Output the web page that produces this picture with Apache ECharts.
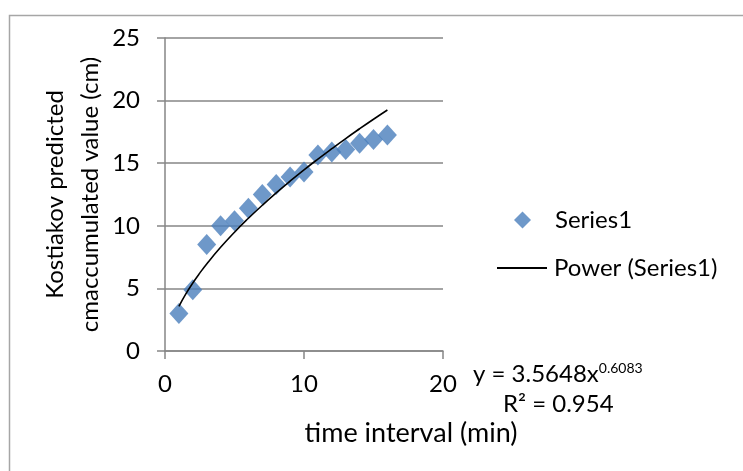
<!DOCTYPE html>
<html>
<head>
<meta charset="utf-8">
<script src="https://cdn.jsdelivr.net/npm/echarts@6/dist/echarts.min.js"></script>
<style>
html,body{margin:0;padding:0;background:#fff;}
#chart{width:743px;height:471px;}
</style>
</head>
<body>
<div id="chart"></div>
<script>
// Observed data (time interval, min) vs Kostiakov predicted accumulated value (cm)
var timeValues = [1, 2, 3, 4, 5, 6, 7, 8, 9, 10, 11, 12, 13, 14, 15, 16];
var series1Values = [3.0, 4.9, 8.5, 10.0, 10.4, 11.4, 12.5, 13.3, 13.9, 14.3, 15.65, 15.9, 16.1, 16.6, 16.9, 17.25];
// Power trendline (Excel)
var trendX = [1, 1.5, 2, 2.5, 3, 4, 5, 6, 7, 8, 9, 10, 11, 12, 13, 14, 15, 16];
var trendY = [3.56, 4.56, 5.43, 6.22, 6.95, 8.28, 9.49, 10.60, 11.64, 12.63, 13.57, 14.47, 15.33, 16.16, 16.97, 17.75, 18.51, 19.25];
var xTicks = [0, 10, 20];
var yTicks = [0, 5, 10, 15, 20, 25];
var equationText = 'y = 3.5648x';
var equationExp = '0.6083';
var r2Text = 'R² = 0.954';

var FONT = 'Lato, sans-serif';
var FS = 24;
var scatterData = timeValues.map(function (t, i) { return [t, series1Values[i]]; });
var trendData = trendX.map(function (t, i) { return [t, trendY[i]]; });

var chart = echarts.init(document.getElementById('chart'));
chart.setOption({
  animation: false,
  backgroundColor: '#fff',
  textStyle: { fontFamily: FONT },
  grid: { left: 165, right: 300, top: 38, bottom: 120 },
  xAxis: {
    type: 'value', min: xTicks[0], max: xTicks[xTicks.length - 1], interval: 10,
    axisLine: { show: true, lineStyle: { color: '#868686', width: 1.5 } },
    axisTick: { show: true, length: 8, lineStyle: { color: '#868686', width: 1.5 } },
    splitLine: { show: false },
    axisLabel: { color: '#000', fontSize: FS, margin: 21, fontFamily: FONT }
  },
  yAxis: {
    type: 'value', min: yTicks[0], max: yTicks[yTicks.length - 1], interval: 5,
    name: 'Kostiakov predicted\ncmaccumulated value (cm)',
    nameLocation: 'middle', nameGap: 55, nameRotate: 90,
    nameTextStyle: { color: '#000', fontSize: FS, lineHeight: 35, fontFamily: FONT },
    axisLine: { show: true, lineStyle: { color: '#868686', width: 1.5 } },
    axisTick: { show: true, length: 8, lineStyle: { color: '#868686', width: 1.5 } },
    splitLine: { show: true, lineStyle: { color: '#868686', width: 1.5 } },
    axisLabel: { color: '#000', fontSize: FS, margin: 25, fontFamily: FONT }
  },
  legend: [
    {
      data: [{ name: 'Series1', icon: 'diamond' }],
      left: 514, top: 208, padding: 0, itemWidth: 17, itemHeight: 17,
      textStyle: { color: '#000', fontSize: FS, fontFamily: FONT, padding: [0, 0, 0, 19] }
    },
    {
      data: [{ name: 'Power (Series1)', icon: 'path://M0,0 L100,0 L100,4 L0,4 Z' }],
      left: 497, top: 256, padding: 0, itemWidth: 54, itemHeight: 2,
      textStyle: { color: '#000', fontSize: FS, fontFamily: FONT, padding: [0, 0, 0, 0] }
    }
  ],
  series: [
    {
      name: 'Series1', type: 'scatter', data: scatterData,
      symbol: 'diamond', symbolSize: [19, 21],
      itemStyle: { color: '#4A7EBB' }, z: 2
    },
    {
      name: 'Power (Series1)', type: 'line', data: trendData,
      smooth: true, showSymbol: false, symbol: 'none',
      lineStyle: { color: '#000', width: 1.6 },
      itemStyle: { color: '#000' }, z: 3
    }
  ],
  graphic: [
    { type: 'rect', left: 7, top: 13, shape: { width: 800, height: 500 },
      style: { fill: 'none', stroke: '#A6A6A6', lineWidth: 1.5 }, z: -10 },
    { type: 'text', x: 411, y: 420,
      style: { text: 'time interval (min)', font: '27px ' + FONT, fill: '#000', textAlign: 'center' } },
    { type: 'text', left: 473, top: 361,
      style: {
        text: '{b|' + equationText + '}{s|' + equationExp + '}',
        fill: '#000',
        rich: {
          b: { fontSize: FS, fontFamily: FONT, fill: '#000' },
          s: { fontSize: 14, fontFamily: FONT, fill: '#000', padding: [0, 0, 13, 0] }
        }
      } },
    { type: 'text', left: 503, top: 392,
      style: { text: r2Text, font: FS + 'px ' + FONT, fill: '#000' } }
  ]
});
</script>
</body>
</html>
